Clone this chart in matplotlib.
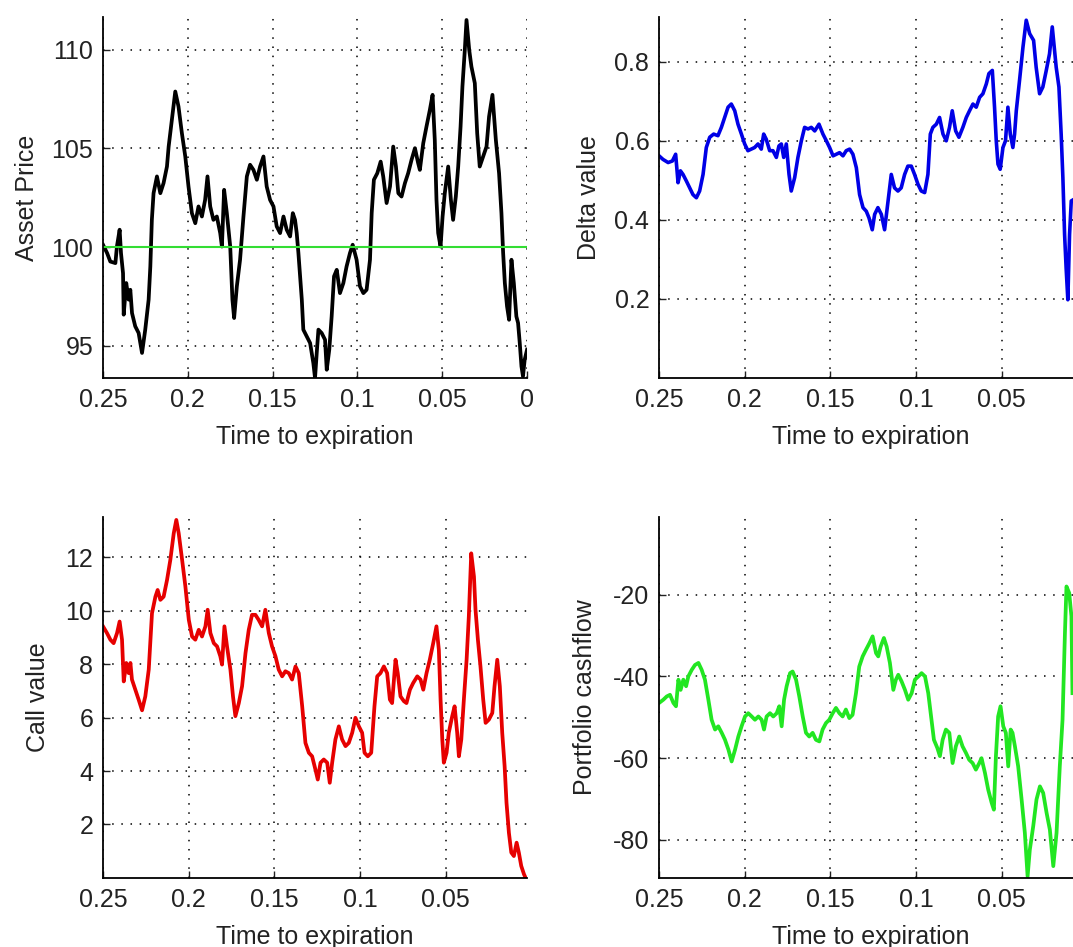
import matplotlib
matplotlib.use("Agg")
import matplotlib.pyplot as plt

plt.rcParams['font.family'] = ['Liberation Sans', 'DejaVu Sans']
plt.rcParams['axes.unicode_minus'] = False

strike = 100

# asset price path (time to expiration, price)
t_price = [0.25, 0.2476, 0.2457, 0.2427, 0.2418, 0.2402, 0.2394, 0.2382, 0.2378, 0.2363,
           0.2349, 0.2339, 0.2329, 0.2310, 0.2290, 0.2270, 0.2251, 0.2231, 0.2221, 0.2212,
           0.2202, 0.2182, 0.2162, 0.2143, 0.2123, 0.2113, 0.2094, 0.2074, 0.2055, 0.2035,
           0.2015, 0.1996, 0.1976, 0.1956, 0.1937, 0.1917, 0.1898, 0.1884, 0.1868, 0.1849,
           0.1829, 0.1809, 0.1799, 0.1786, 0.1770, 0.1750, 0.1737, 0.1727, 0.1711, 0.1692,
           0.1672, 0.1652, 0.1633, 0.1613, 0.1593, 0.1574, 0.1554, 0.1535, 0.1515, 0.1495,
           0.1476, 0.1456, 0.1436, 0.1417, 0.1397, 0.1381, 0.1368, 0.1358, 0.1348, 0.1328,
           0.1319, 0.1299, 0.1279, 0.1260, 0.1250, 0.1240, 0.1230, 0.1211, 0.1191, 0.1181,
           0.1166, 0.1152, 0.1138, 0.1122, 0.1103, 0.1083, 0.1064, 0.1044, 0.1028, 0.1005,
           0.0985, 0.0965, 0.0946, 0.0926, 0.0916, 0.0903, 0.0883, 0.0863, 0.0848, 0.0828,
           0.0808, 0.0789, 0.0773, 0.0759, 0.0740, 0.0720, 0.0701, 0.0681, 0.0661, 0.0642,
           0.0632, 0.0612, 0.0593, 0.0573, 0.0557, 0.0544, 0.0534, 0.0524, 0.0510, 0.0498,
           0.0485, 0.0465, 0.0449, 0.0436, 0.0420, 0.0406, 0.0392, 0.0381, 0.0367, 0.0357,
           0.0341, 0.0328, 0.0308, 0.0294, 0.0279, 0.0259, 0.0239, 0.0224, 0.0204, 0.0184,
           0.0165, 0.0151, 0.0141, 0.0131, 0.0118, 0.0106, 0.0092, 0.0078, 0.0063, 0.0053,
           0.0043, 0.0033, 0.0024, 0.0014, 0.0]
price = [100.12, 99.70, 99.27, 99.19, 100.03, 100.88, 99.70, 98.68, 96.58, 98.18,
         97.34, 97.84, 96.66, 95.99, 95.65, 94.64, 95.82, 97.34, 99.02, 101.38,
         102.73, 103.58, 102.73, 103.24, 104.08, 105.09, 106.44, 107.88, 107.12, 105.77,
         104.59, 103.07, 101.72, 101.21, 102.06, 101.55, 102.39, 103.58, 102.06, 101.38,
         101.55, 100.71, 100.03, 102.90, 101.72, 100.03, 97.34, 96.41, 98.01, 99.36,
         101.55, 103.58, 104.17, 103.91, 103.41, 104.08, 104.59, 103.07, 102.39, 102.06,
         101.05, 100.71, 101.55, 100.88, 100.54, 101.72, 101.38, 100.71, 99.70, 97.34,
         95.82, 95.48, 95.14, 94.13, 93.37, 94.64, 95.82, 95.65, 95.31, 93.79,
         94.81, 96.49, 98.52, 98.85, 97.67, 98.18, 99.02, 99.70, 100.12, 99.36,
         98.01, 97.67, 97.84, 99.36, 101.72, 103.41, 103.74, 104.33, 103.58, 102.23,
         103.07, 105.09, 104.08, 102.73, 102.56, 103.24, 103.74, 104.42, 105.01, 104.25,
         103.91, 105.26, 106.10, 106.95, 107.71, 105.43, 102.39, 100.71, 100.03, 101.55,
         102.73, 104.08, 102.39, 101.38, 102.56, 104.08, 106.10, 108.13, 109.98, 111.50,
         109.98, 109.14, 108.30, 105.77, 104.08, 104.59, 105.09, 106.61, 107.71, 105.43,
         103.74, 101.72, 99.70, 98.18, 97.00, 96.32, 99.36, 98.18, 96.49, 96.16,
         95.14, 93.96, 93.46, 94.30, 94.81]

# hedge ratio
t_delta = [0.25, 0.2477, 0.2447, 0.2422, 0.2403, 0.2389, 0.2375, 0.2360, 0.2340, 0.2321,
           0.2302, 0.2282, 0.2263, 0.2243, 0.2224, 0.2204, 0.2181, 0.2156, 0.2136, 0.2117,
           0.2097, 0.2078, 0.2058, 0.2039, 0.2019, 0.2000, 0.1981, 0.1961, 0.1942, 0.1922,
           0.1903, 0.1889, 0.1874, 0.1854, 0.1835, 0.1815, 0.1800, 0.1786, 0.1772, 0.1757,
           0.1741, 0.1728, 0.1708, 0.1689, 0.1669, 0.1650, 0.1630, 0.1611, 0.1591, 0.1566,
           0.1543, 0.1523, 0.1504, 0.1484, 0.1465, 0.1446, 0.1426, 0.1407, 0.1387, 0.1368,
           0.1348, 0.1329, 0.1309, 0.1290, 0.1274, 0.1255, 0.1241, 0.1222, 0.1202, 0.1183,
           0.1163, 0.1144, 0.1125, 0.1105, 0.1086, 0.1066, 0.1047, 0.1027, 0.1008, 0.0988,
           0.0969, 0.0949, 0.0930, 0.0916, 0.0901, 0.0881, 0.0862, 0.0842, 0.0823, 0.0804,
           0.0788, 0.0768, 0.0749, 0.0726, 0.0706, 0.0687, 0.0667, 0.0648, 0.0628, 0.0609,
           0.0589, 0.0574, 0.0554, 0.0541, 0.0531, 0.0521, 0.0508, 0.0492, 0.0477, 0.0463,
           0.0449, 0.0434, 0.0424, 0.0414, 0.0395, 0.0375, 0.0356, 0.0336, 0.0313, 0.0298,
           0.0278, 0.0259, 0.0239, 0.0220, 0.0204, 0.0191, 0.0181, 0.0165, 0.0152, 0.0142,
           0.0132, 0.0123, 0.0113, 0.0103, 0.0093, 0.0085]
delta = [0.562, 0.553, 0.545, 0.549, 0.566, 0.494, 0.524, 0.515, 0.498, 0.481,
         0.464, 0.456, 0.473, 0.515, 0.583, 0.609, 0.617, 0.613, 0.634, 0.659,
         0.685, 0.693, 0.676, 0.642, 0.617, 0.592, 0.575, 0.579, 0.583, 0.592,
         0.579, 0.617, 0.604, 0.575, 0.575, 0.558, 0.587, 0.592, 0.558, 0.592,
         0.515, 0.473, 0.507, 0.558, 0.600, 0.634, 0.630, 0.634, 0.625, 0.642,
         0.617, 0.600, 0.583, 0.562, 0.566, 0.570, 0.562, 0.575, 0.579, 0.566,
         0.532, 0.464, 0.431, 0.422, 0.405, 0.375, 0.414, 0.431, 0.414, 0.375,
         0.448, 0.515, 0.481, 0.473, 0.481, 0.515, 0.536, 0.536, 0.515, 0.490,
         0.473, 0.469, 0.515, 0.617, 0.634, 0.642, 0.659, 0.617, 0.600, 0.634,
         0.676, 0.625, 0.609, 0.634, 0.659, 0.676, 0.693, 0.685, 0.710, 0.719,
         0.744, 0.770, 0.778, 0.685, 0.600, 0.541, 0.528, 0.583, 0.600, 0.685,
         0.617, 0.583, 0.617, 0.676, 0.753, 0.837, 0.905, 0.871, 0.854, 0.786,
         0.719, 0.736, 0.778, 0.820, 0.888, 0.829, 0.786, 0.736, 0.617, 0.507,
         0.363, 0.278, 0.198, 0.363, 0.448, 0.450]

# option value
t_call = [0.25, 0.2477, 0.2457, 0.2438, 0.2418, 0.2403, 0.2389, 0.2379, 0.2364, 0.2350,
          0.2340, 0.2331, 0.2311, 0.2292, 0.2272, 0.2253, 0.2233, 0.2223, 0.2214, 0.2194,
          0.2181, 0.2165, 0.2146, 0.2126, 0.2107, 0.2087, 0.2072, 0.2058, 0.2038, 0.2019,
          0.1999, 0.1980, 0.1961, 0.1941, 0.1922, 0.1902, 0.1889, 0.1873, 0.1853, 0.1834,
          0.1815, 0.1805, 0.1791, 0.1776, 0.1756, 0.1741, 0.1727, 0.1707, 0.1688, 0.1668,
          0.1649, 0.1630, 0.1610, 0.1591, 0.1571, 0.1552, 0.1532, 0.1513, 0.1493, 0.1474,
          0.1454, 0.1435, 0.1415, 0.1396, 0.1376, 0.1357, 0.1337, 0.1318, 0.1298, 0.1279,
          0.1260, 0.1246, 0.1230, 0.1211, 0.1191, 0.1176, 0.1162, 0.1143, 0.1123, 0.1104,
          0.1084, 0.1065, 0.1045, 0.1026, 0.1006, 0.0987, 0.0973, 0.0954, 0.0934, 0.0915,
          0.0899, 0.0880, 0.0860, 0.0841, 0.0825, 0.0812, 0.0792, 0.0779, 0.0763, 0.0743,
          0.0728, 0.0708, 0.0689, 0.0665, 0.0646, 0.0630, 0.0611, 0.0592, 0.0572, 0.0553,
          0.0539, 0.0529, 0.0519, 0.0510, 0.0494, 0.0481, 0.0461, 0.0447, 0.0432, 0.0422,
          0.0408, 0.0393, 0.0377, 0.0364, 0.0350, 0.0334, 0.0325, 0.0311, 0.0296, 0.0280,
          0.0266, 0.0247, 0.0227, 0.0214, 0.0198, 0.0183, 0.0169, 0.0155, 0.0144, 0.0130,
          0.0116, 0.0101, 0.0085, 0.0072, 0.0058, 0.0042, 0.0033]
call = [9.41, 9.16, 8.91, 8.78, 9.16, 9.59, 8.91, 7.35, 8.04, 7.66,
        8.04, 7.42, 7.04, 6.67, 6.27, 6.79, 7.79, 8.91, 9.90, 10.52,
        10.77, 10.40, 10.52, 11.15, 11.89, 12.89, 13.39, 12.89, 11.89, 10.90,
        9.65, 9.03, 8.91, 9.28, 9.03, 9.41, 10.03, 9.16, 8.78, 8.66,
        8.29, 7.98, 9.41, 8.66, 7.79, 6.79, 6.05, 6.54, 7.17, 8.41,
        9.28, 9.84, 9.84, 9.65, 9.41, 10.03, 9.16, 8.66, 8.29, 7.79,
        7.54, 7.73, 7.66, 7.42, 7.91, 7.66, 6.42, 5.05, 4.68, 4.55,
        4.06, 3.68, 4.31, 4.43, 4.31, 3.56, 4.31, 5.18, 5.67, 5.18,
        4.93, 5.05, 5.43, 5.99, 5.67, 5.43, 4.68, 4.55, 4.68, 6.42,
        7.54, 7.66, 7.91, 7.66, 6.67, 6.54, 8.16, 7.66, 6.79, 6.61,
        6.54, 7.04, 7.29, 7.54, 7.42, 7.04, 7.66, 8.16, 8.78, 9.41,
        8.53, 6.67, 5.18, 4.31, 4.68, 5.43, 6.05, 6.42, 5.43, 4.55,
        5.18, 6.67, 8.16, 9.78, 12.14, 11.27, 10.03, 8.91, 7.91, 6.67,
        5.80, 5.92, 6.17, 7.17, 8.16, 7.17, 5.43, 4.18, 2.81, 1.69,
        0.95, 0.82, 1.32, 0.95, 0.45, 0.14, 0.01]

# portfolio cash account
t_cash = [0.25, 0.2475, 0.2455, 0.2436, 0.2416, 0.2401, 0.2387, 0.2374, 0.2358, 0.2342,
          0.2329, 0.2309, 0.2290, 0.2270, 0.2251, 0.2232, 0.2212, 0.2193, 0.2173, 0.2154,
          0.2134, 0.2115, 0.2095, 0.2076, 0.2056, 0.2037, 0.2018, 0.1998, 0.1979, 0.1959,
          0.1940, 0.1920, 0.1901, 0.1887, 0.1872, 0.1852, 0.1833, 0.1813, 0.1798, 0.1784,
          0.1770, 0.1755, 0.1735, 0.1720, 0.1700, 0.1681, 0.1661, 0.1642, 0.1623, 0.1603,
          0.1584, 0.1564, 0.1545, 0.1525, 0.1506, 0.1486, 0.1467, 0.1447, 0.1428, 0.1409,
          0.1389, 0.1370, 0.1350, 0.1331, 0.1311, 0.1292, 0.1272, 0.1253, 0.1233, 0.1220,
          0.1206, 0.1187, 0.1171, 0.1152, 0.1132, 0.1117, 0.1103, 0.1084, 0.1064, 0.1045,
          0.1025, 0.1006, 0.0986, 0.0967, 0.0947, 0.0928, 0.0909, 0.0895, 0.0875, 0.0860,
          0.0844, 0.0825, 0.0805, 0.0786, 0.0767, 0.0747, 0.0728, 0.0708, 0.0689, 0.0669,
          0.0650, 0.0630, 0.0617, 0.0597, 0.0578, 0.0558, 0.0545, 0.0533, 0.0520, 0.0506,
          0.0490, 0.0475, 0.0461, 0.0447, 0.0436, 0.0422, 0.0403, 0.0383, 0.0364, 0.0348,
          0.0335, 0.0315, 0.0296, 0.0276, 0.0257, 0.0237, 0.0218, 0.0198, 0.0179, 0.0160,
          0.0144, 0.0130, 0.0121, 0.0105, 0.0092, 0.0086]
cash = [-46.5, -45.7, -44.9, -44.5, -46.5, -47.3, -40.8, -43.3, -40.8, -42.4,
        -40.0, -38.4, -37.2, -36.7, -38.4, -40.8, -45.7, -50.6, -53.0, -52.2,
        -53.8, -55.5, -57.9, -60.8, -57.9, -54.7, -52.2, -49.8, -49.0, -49.8,
        -50.6, -49.8, -50.6, -53.0, -49.8, -49.0, -49.8, -49.0, -47.3, -52.2,
        -45.7, -42.4, -39.2, -38.8, -40.8, -44.9, -49.8, -53.8, -54.7, -53.8,
        -55.5, -55.9, -53.0, -51.4, -50.6, -49.0, -47.7, -49.0, -49.8, -48.1,
        -50.2, -49.4, -44.1, -37.6, -35.1, -33.5, -31.9, -30.2, -34.3, -35.1,
        -32.7, -30.6, -32.7, -36.7, -43.3, -40.8, -39.6, -41.2, -43.3, -45.7,
        -44.1, -40.8, -40.0, -39.2, -40.0, -44.1, -50.6, -55.5, -57.5, -59.5,
        -55.5, -53.0, -53.8, -61.2, -57.1, -54.7, -57.1, -58.7, -60.4, -61.2,
        -62.8, -61.2, -60.0, -63.6, -67.7, -70.9, -72.6, -59.5, -49.8, -47.3,
        -52.2, -53.8, -62.0, -53.0, -53.8, -57.1, -62.0, -70.1, -78.3, -88.9,
        -82.4, -76.6, -70.1, -66.9, -68.5, -73.4, -77.5, -86.4, -78.3, -62.0,
        -50.6, -29.4, -18.0, -19.6, -25.3, -44.1]

xt_full = [0.25, 0.2, 0.15, 0.1, 0.05, 0]
xl_full = ['0.25', '0.2', '0.15', '0.1', '0.05', '0']
xt_short = [0.25, 0.2, 0.15, 0.1, 0.05]
xl_short = ['0.25', '0.2', '0.15', '0.1', '0.05']

fig = plt.figure(figsize=(10.73, 9.47), dpi=100)
W, H = 0.3952, 0.3812
ax1 = fig.add_axes([0.0960, 0.6008, W, H])
ax2 = fig.add_axes([0.6142, 0.6008, W, H])
ax3 = fig.add_axes([0.0960, 0.0729, W, H])
ax4 = fig.add_axes([0.6142, 0.0729, W, H])


def style(ax, ylabel, yticks, ylim, xticks, xlabels, xright, ylab_x):
    ax.set_xlim(0.25, xright)
    ax.set_ylim(*ylim)
    ax.set_xticks(xticks)
    ax.set_xticklabels(xlabels)
    ax.set_yticks(yticks)
    for s in ['top', 'right']:
        ax.spines[s].set_visible(False)
    for s in ['left', 'bottom']:
        ax.spines[s].set_linewidth(1.3)
    ax.grid(True, linestyle=(0, (1, 5)), color='k', linewidth=1.1)
    ax.set_axisbelow(True)
    ax.tick_params(direction='in', length=5, width=1, labelsize=18,
                   colors='#222222', pad=7)
    ax.set_xlabel('Time to expiration', fontsize=18, color='#222222')
    ax.set_ylabel(ylabel, fontsize=18, color='#222222')
    ax.xaxis.set_label_coords(0.5, -0.13)
    ax.yaxis.set_label_coords(ylab_x, 0.5)


ax1.plot(t_price, price, color='k', lw=2.7)
ax1.axhline(strike, color='#33dd33', lw=1.5)
style(ax1, 'Asset Price', [95, 100, 105, 110], (93.37, 111.65),
      xt_full, xl_full, 0, -0.152)

ax2.plot(t_delta, delta, color='#0000e6', lw=2.6)
style(ax2, 'Delta value', [0.2, 0.4, 0.6, 0.8], (0, 0.913),
      xt_short, xl_short, 0.0024, -0.137)

ax3.plot(t_call, call, color='#e60000', lw=2.7)
style(ax3, 'Call value', [2, 4, 6, 8, 10, 12], (0, 13.5),
      xt_short, xl_short, 0.0024, -0.125)

ax4.plot(t_cash, cash, color='#22e622', lw=2.7)
style(ax4, 'Portfolio cashflow', [-80, -60, -40, -20], (-89.3, -1.0),
      xt_short, xl_short, 0.0024, -0.146)

fig.savefig('out.png', dpi=100)
